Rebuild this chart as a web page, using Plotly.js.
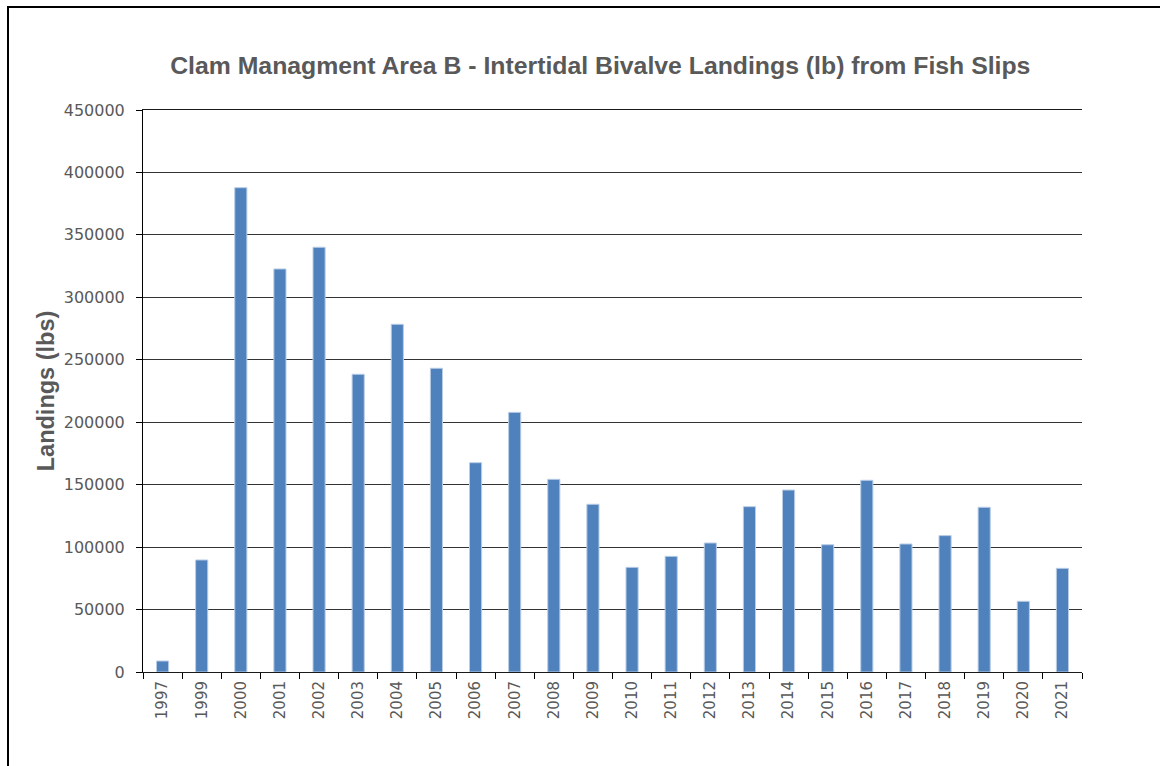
<!DOCTYPE html>
<html>
<head>
<meta charset="utf-8">
<script src="https://cdn.plot.ly/plotly-3.0.1.min.js"></script>
<style>
html,body{margin:0;padding:0;background:#fff;}
#chart{width:1160px;height:766px;position:absolute;left:0;top:0;}
#frame{position:absolute;left:7px;top:6px;width:1200px;height:800px;border-left:2px solid #000;border-top:2px solid #000;pointer-events:none;}
</style>
</head>
<body>
<div id="chart"></div>
<div id="frame"></div>
<script>
const years = ["1997","1999","2000","2001","2002","2003","2004","2005","2006","2007","2008","2009","2010","2011","2012","2013","2014","2015","2016","2017","2018","2019","2020","2021"];
const landings = [8800,89700,387800,322700,340100,238400,278400,243200,167600,207900,154300,134300,83800,92600,103300,132400,145700,101900,153500,102500,109200,131900,56600,83000];
const yTicks = [0,50000,100000,150000,200000,250000,300000,350000,400000,450000];
const titleText = "Clam Managment Area B - Intertidal Bivalve Landings (lb) from Fish Slips";
const yTitleText = "Landings (lbs)";

const trace = {
  type: "bar",
  x: years,
  y: landings,
  marker: {color: "#4F81BD", line: {color: "#B9CDE5", width: 1}},
  hoverinfo: "x+y"
};

const layout = {
  width: 1160,
  height: 766,
  paper_bgcolor: "rgba(0,0,0,0)",
  plot_bgcolor: "#fff",
  margin: {l: 143, r: 78, t: 110, b: 94, autoexpand: false},
  bargap: 0.69,
  showlegend: false,
  title: {
    text: "<b>" + titleText + "</b>",
    font: {family: "Liberation Sans, Arial, sans-serif", size: 24.8, color: "#595959"},
    x: 0.487, xanchor: "center", xref: "paper",
    y: 1 - 65/766, yanchor: "middle", yref: "container"
  },
  xaxis: {
    type: "category",
    tickangle: -90,
    ticks: "outside",
    tickson: "boundaries",
    ticklen: 6,
    tickcolor: "#000",
    showline: true,
    mirror: true,
    linecolor: "#1a1a1a",
    linewidth: 1,
    showgrid: false,
    tickfont: {family: "DejaVu Sans, sans-serif", size: 15, color: "#595959"},
    ticklabelstandoff: 2,
    automargin: false
  },
  yaxis: {
    range: [0, 450000],
    tickvals: yTicks,
    ticktext: yTicks.map(String),
    ticks: "outside",
    ticklen: 6,
    tickcolor: "#000",
    showline: true,
    linecolor: "#000",
    linewidth: 1,
    showgrid: true,
    gridcolor: "#333333",
    gridwidth: 1.2,
    zeroline: false,
    tickfont: {family: "DejaVu Sans, sans-serif", size: 16, color: "#595959"},
    ticklabelstandoff: 8,
    title: {
      text: "<b>" + yTitleText + "</b>",
      font: {family: "Liberation Sans, Arial, sans-serif", size: 23.5, color: "#595959"},
      standoff: 2
    },
    automargin: false
  }
};

Plotly.newPlot("chart", [trace], layout, {displayModeBar: false, staticPlot: true});
</script>
</body>
</html>
